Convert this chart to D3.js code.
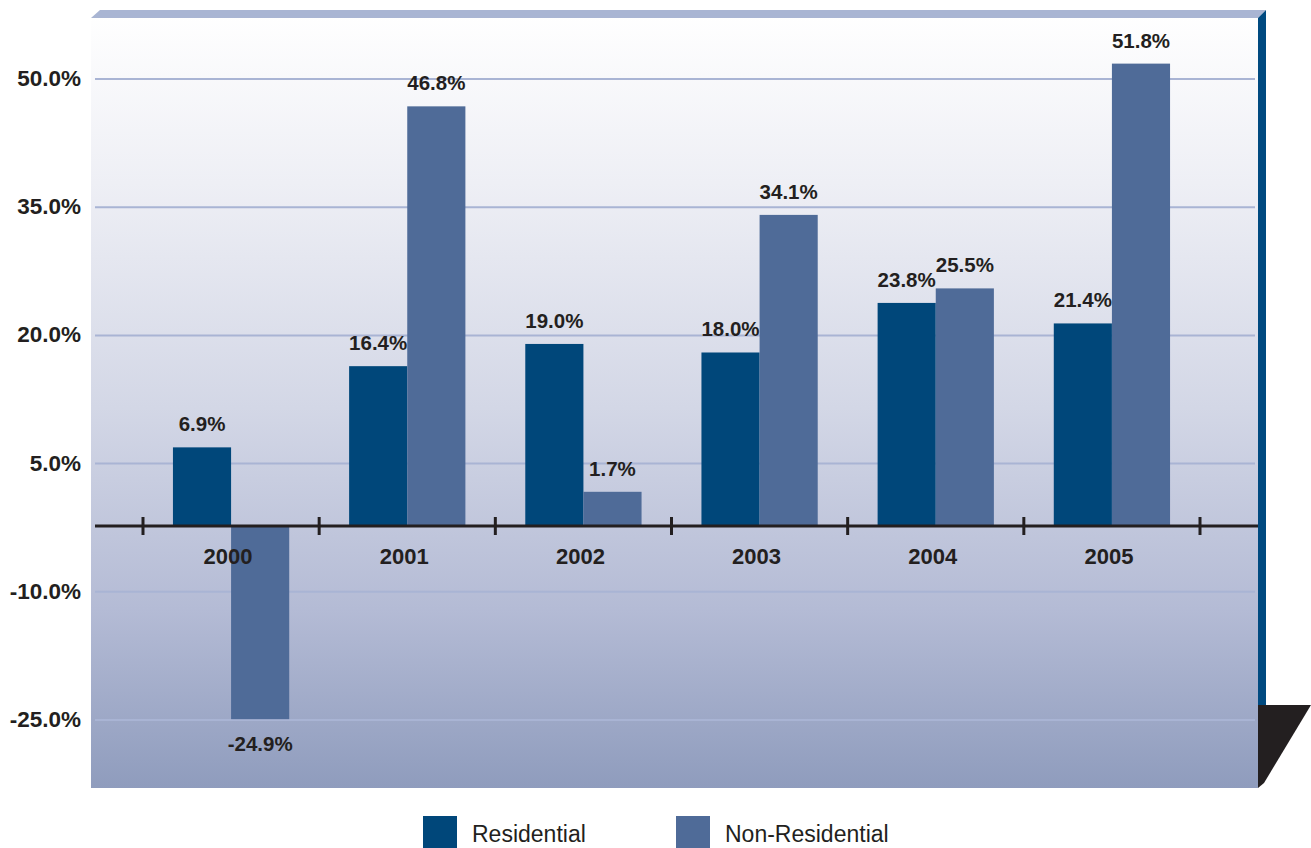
<!DOCTYPE html>
<html>
<head>
<meta charset="utf-8">
<script src="https://cdn.jsdelivr.net/npm/d3@7"></script>
<style>
  html, body { margin: 0; padding: 0; background: #ffffff; }
  svg { display: block; font-family: "Liberation Sans", Arial, Helvetica, sans-serif; }
</style>
</head>
<body>
<svg id="chart" width="1311" height="848"></svg>
<script>
// Annual growth rates by construction type
const years = ["2000", "2001", "2002", "2003", "2004", "2005"];
const seriesNames = ["Residential", "Non-Residential"];
const residential = [6.9, 16.4, 19.0, 18.0, 23.8, 21.4];
const nonResidential = [-24.9, 46.8, 1.7, 34.1, 25.5, 51.8];
const yTicks = [50, 35, 20, 5, -10, -25];

const colors = { "Residential": "#00477a", "Non-Residential": "#4f6b98" };
const seriesValues = { "Residential": residential, "Non-Residential": nonResidential };

// Percent label with a plain hyphen for negatives
const pct = v => d3.format(".1f")(v).replace("\u2212", "-") + "%";

const svg = d3.select("#chart");

// Plot frame
const plot = { left: 91, right: 1258, top: 12, bottom: 788 };
const baseY = 526; // category axis (floor) line

const y = d3.scaleLinear().domain([-25, 50]).range([720, 79]);
const x0 = d3.scaleBand().domain(years).range([143, 1200]).paddingInner(0.34).paddingOuter(0.17);
const x1 = d3.scaleBand().domain(seriesNames).range([0, x0.bandwidth()]);

// Background gradient of the back wall
const defs = svg.append("defs");
const grad = defs.append("linearGradient").attr("id", "wall")
  .attr("x1", 0).attr("y1", 0).attr("x2", 0).attr("y2", 1);
[
  [0, "#ffffff"], [0.22, "#eeeff5"], [0.51, "#d3d7e6"],
  [0.77, "#b4bbd5"], [1, "#8f9cbd"]
].forEach(([o, c]) => grad.append("stop").attr("offset", o).attr("stop-color", c));

svg.append("rect")
  .attr("x", plot.left).attr("y", plot.top)
  .attr("width", plot.right - plot.left).attr("height", plot.bottom - plot.top)
  .attr("fill", "url(#wall)");

// Top edge of the wall
svg.append("polygon")
  .attr("points", `${plot.left},18 100,10 1266,10 ${plot.right},18`)
  .attr("fill", "#a9b5d3");

// Right side edge
svg.append("polygon")
  .attr("points", `${plot.right},18 1266,10 1266,705 ${plot.right},705`)
  .attr("fill", "#004a80");

// Floor corner
svg.append("polygon")
  .attr("points", `${plot.right},705 1311,705 1264,783 ${plot.right},788`)
  .attr("fill", "#231f20");

// Gridlines
svg.append("g").selectAll("line").data(yTicks).join("line")
  .attr("x1", 95).attr("x2", 1255)
  .attr("y1", d => y(d)).attr("y2", d => y(d))
  .attr("stroke", "#a9b4d4").attr("stroke-width", 2);

// Y tick labels
svg.append("g").selectAll("text").data(yTicks).join("text")
  .attr("x", 81).attr("y", d => y(d) + 7)
  .attr("text-anchor", "end")
  .attr("font-size", 22.5).attr("font-weight", "bold").attr("fill", "#231f20")
  .text(d => pct(d));

// Bars
const groups = svg.append("g").selectAll("g").data(years).join("g")
  .attr("transform", d => `translate(${x0(d)},0)`);

const barData = (yr, i) => seriesNames.map(s => ({ series: s, value: seriesValues[s][i] }));

groups.each(function(yr, i) {
  const g = d3.select(this);
  const data = barData(yr, i);
  g.selectAll("rect").data(data).join("rect")
    .attr("x", d => x1(d.series))
    .attr("width", x1.bandwidth())
    .attr("y", d => d.value >= 0 ? y(d.value) : baseY)
    .attr("height", d => d.value >= 0 ? baseY - y(d.value) : y(d.value) - baseY)
    .attr("fill", d => colors[d.series]);
  g.selectAll("text").data(data).join("text")
    .attr("x", d => x1(d.series) + x1.bandwidth() / 2)
    .attr("y", d => d.value >= 0 ? y(d.value) - 16 : y(d.value) + 32)
    .attr("text-anchor", "middle")
    .attr("font-size", 20.5).attr("font-weight", "bold").attr("fill", "#231f20")
    .text(d => pct(d.value));
});

// Category axis line and ticks
svg.append("line")
  .attr("x1", 95).attr("x2", plot.right)
  .attr("y1", baseY).attr("y2", baseY)
  .attr("stroke", "#231f20").attr("stroke-width", 3);

const step = x0.step();
const tickXs = d3.range(years.length + 1).map(i => x0.range()[0] + i * step);
svg.append("g").selectAll("line").data(tickXs).join("line")
  .attr("x1", d => d).attr("x2", d => d)
  .attr("y1", baseY - 9).attr("y2", baseY + 9)
  .attr("stroke", "#231f20").attr("stroke-width", 3);

// Year labels
svg.append("g").selectAll("text").data(years).join("text")
  .attr("x", d => x0(d) + x0.bandwidth() / 2 - 3)
  .attr("y", 564)
  .attr("text-anchor", "middle")
  .attr("font-size", 22).attr("font-weight", "bold").attr("fill", "#231f20")
  .text(d => d);

// Legend
const legendX = [423, 676];
const legend = svg.append("g").selectAll("g").data(seriesNames).join("g")
  .attr("transform", (d, i) => `translate(${legendX[i]},816)`);
legend.append("rect")
  .attr("width", 34).attr("height", 34)
  .attr("fill", d => colors[d]);
legend.append("text")
  .attr("x", 49).attr("y", 26)
  .attr("font-size", 23).attr("fill", "#231f20")
  .text(d => d);
</script>
</body>
</html>
